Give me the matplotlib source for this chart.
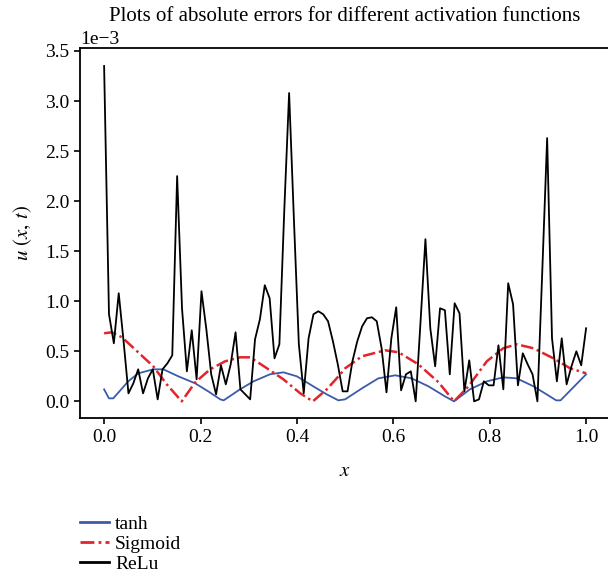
import matplotlib.pyplot as plt
import numpy as np

plt.rcParams['font.family'] = ['Liberation Serif', 'DejaVu Serif']
plt.rcParams['mathtext.fontset'] = 'stix'

# ReLu error, sampled on 100 equally spaced points in [0, 1]
relu_err = [3.35, 0.87, 0.58, 1.08, 0.60, 0.08, 0.18, 0.32, 0.08, 0.23,
            0.32, 0.02, 0.32, 0.38, 0.46, 2.25, 0.93, 0.30, 0.71, 0.22,
            1.10, 0.72, 0.27, 0.07, 0.36, 0.17, 0.37, 0.69, 0.12, 0.07,
            0.02, 0.62, 0.82, 1.16, 1.03, 0.43, 0.57, 1.90, 3.08, 1.80,
            0.57, 0.08, 0.63, 0.87, 0.90, 0.87, 0.80, 0.60, 0.37, 0.10,
            0.10, 0.40, 0.60, 0.75, 0.83, 0.84, 0.80, 0.53, 0.09, 0.63,
            0.94, 0.11, 0.27, 0.30, 0.00, 0.80, 1.62, 0.73, 0.35, 0.93,
            0.91, 0.27, 0.98, 0.88, 0.10, 0.41, 0.00, 0.02, 0.20, 0.16,
            0.16, 0.56, 0.12, 1.18, 0.97, 0.16, 0.48, 0.37, 0.27, 0.00,
            1.30, 2.63, 0.63, 0.20, 0.63, 0.17, 0.35, 0.50, 0.36, 0.73]

tanh_x = [0.0, 0.010, 0.019, 0.050, 0.071, 0.102, 0.123, 0.154, 0.189, 0.216,
          0.241, 0.248, 0.282, 0.310, 0.344, 0.372, 0.400, 0.434, 0.462, 0.486,
          0.500, 0.535, 0.569, 0.604, 0.638, 0.673, 0.707, 0.726, 0.759, 0.794,
          0.828, 0.856, 0.891, 0.918, 0.938, 0.947, 1.0]
tanh_err = [0.12, 0.03, 0.03, 0.20, 0.28, 0.32, 0.32, 0.25, 0.18, 0.10,
            0.02, 0.01, 0.12, 0.20, 0.27, 0.29, 0.25, 0.15, 0.07, 0.01,
            0.02, 0.13, 0.23, 0.26, 0.23, 0.15, 0.05, 0.00, 0.12, 0.20,
            0.24, 0.23, 0.15, 0.07, 0.01, 0.01, 0.27]

sig_x = [0.0, 0.016, 0.037, 0.064, 0.102, 0.130, 0.161, 0.189, 0.220, 0.251,
         0.282, 0.303, 0.338, 0.372, 0.407, 0.433, 0.462, 0.490, 0.500, 0.535,
         0.583, 0.611, 0.652, 0.694, 0.726, 0.756, 0.794, 0.828, 0.856, 0.891,
         0.932, 0.967, 1.0]
sig_err = [0.68, 0.69, 0.64, 0.52, 0.35, 0.17, 0.00, 0.19, 0.32, 0.40,
           0.44, 0.44, 0.33, 0.22, 0.08, 0.00, 0.12, 0.27, 0.33, 0.45,
           0.51, 0.49, 0.37, 0.19, 0.00, 0.15, 0.40, 0.53, 0.57, 0.53,
           0.43, 0.33, 0.28]

relu_x = np.linspace(0, 1, len(relu_err))
scale = 1e-3

fig = plt.figure(figsize=(6.08, 5.76), dpi=100)
ax = fig.add_axes([0.1316, 0.274, 0.872, 0.6427])

l1, = ax.plot(tanh_x, np.array(tanh_err) * scale, color='#3b5ba9', lw=1.3, label='tanh')
l2, = ax.plot(sig_x, np.array(sig_err) * scale, color='#e0262b', lw=1.8,
              linestyle=(0, (5, 1.5, 1, 1.5)), label='Sigmoid')
l3, = ax.plot(relu_x, np.array(relu_err) * scale, color='black', lw=1.3, label='ReLu')

ax.set_xlim(-0.05, 1.05)
ax.set_ylim(-0.168e-3, 3.53e-3)
ax.set_yticks(np.arange(0, 3.51, 0.5) * scale)
ax.set_xticks(np.arange(0, 1.01, 0.2))
ax.ticklabel_format(axis='y', style='sci', scilimits=(-3, -3))
ax.yaxis.get_offset_text().set_fontsize(14)
ax.tick_params(labelsize=14, direction='out', length=4, width=1.2)
ax.spines['right'].set_visible(False)
for s in ['left', 'top', 'bottom']:
    ax.spines[s].set_linewidth(1.3)

ax.set_title('Plots of absolute errors for different activation functions', fontsize=15, pad=7)
ax.set_xlabel('$x$', fontsize=15, labelpad=12)
ax.set_ylabel('$u\\ (x,\\,t)$', fontsize=15, labelpad=8)

leg = fig.legend(handles=[l1, l2, l3], loc='upper left', bbox_to_anchor=(0.1316, 0.106),
                 frameon=False, fontsize=14, handlelength=1.5, handletextpad=0.3,
                 labelspacing=0.13, borderpad=0, borderaxespad=0)
for h in leg.legend_handles:
    h.set_linewidth(2)

fig.savefig('out.png', dpi=100)
